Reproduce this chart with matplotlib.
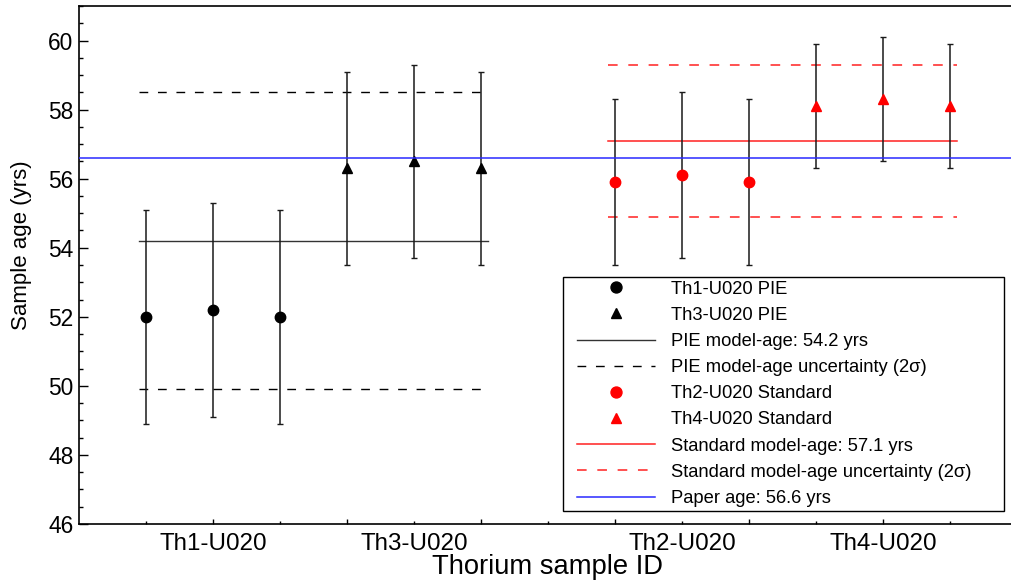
import matplotlib
matplotlib.use('Agg')
import matplotlib.pyplot as plt
from matplotlib.lines import Line2D
from matplotlib.legend_handler import HandlerLine2D
from matplotlib.transforms import blended_transform_factory

plt.rcParams['font.family'] = ['Liberation Sans', 'DejaVu Sans']

# ---- data ----
group_labels = ['Th1-U020', 'Th3-U020', 'Th2-U020', 'Th4-U020']
th1_age = [52.0, 52.2, 52.0]
th1_err = [3.1, 3.1, 3.1]
th3_age = [56.3, 56.5, 56.3]
th3_err = [2.8, 2.8, 2.8]
th2_age = [55.9, 56.1, 55.9]
th2_err = [2.4, 2.4, 2.4]
th4_age = [58.1, 58.3, 58.1]
th4_err = [1.8, 1.8, 1.8]
pie_model_age = 54.2
pie_unc_low, pie_unc_high = 49.9, 58.5
std_model_age = 57.1
std_unc_low, std_unc_high = 54.9, 59.3
paper_age = 56.6

# ---- positions (three replicates per sample, gap between PIE and Standard) ----
x_th1 = [1, 2, 3]
x_th3 = [4, 5, 6]
x_th2 = [8, 9, 10]
x_th4 = [11, 12, 13]
label_pos = [2, 5, 9, 12]

W, H = 1012, 586
fig = plt.figure(figsize=(W / 100, H / 100), dpi=100)
ax = fig.add_axes([79 / W, (H - 524) / H, 938 / W, (524 - 6) / H])

ebar_kw = dict(ls='none', ecolor='#1a1a1a', elinewidth=1.1, capsize=2.2,
               capthick=1.0, ms=7.5, zorder=3)
ax.errorbar(x_th1, th1_age, yerr=th1_err, marker='o', color='black', **ebar_kw)
ax.errorbar(x_th3, th3_age, yerr=th3_err, marker='^', color='black', **ebar_kw)
ax.errorbar(x_th2, th2_age, yerr=th2_err, marker='o', color='red', mec='red', **ebar_kw)
ax.errorbar(x_th4, th4_age, yerr=th4_err, marker='^', color='red', mec='red', **ebar_kw)

pie_x = [x_th1[0] - 0.1, x_th3[-1] + 0.1]
std_x = [x_th2[0] - 0.1, x_th4[-1] + 0.1]
dash = (6.3, 7.0)
red = '#ff2020'
ax.plot(pie_x, [pie_model_age] * 2, color='#333333', lw=1.0, zorder=2)
ax.plot(pie_x, [pie_unc_high] * 2, color='black', lw=1.0, dashes=dash, zorder=2)
ax.plot(pie_x, [pie_unc_low] * 2, color='black', lw=1.0, dashes=dash, zorder=2)
ax.plot(std_x, [std_model_age] * 2, color=red, lw=1.1, zorder=2)
ax.plot(std_x, [std_unc_high] * 2, color=red, lw=1.1, dashes=dash, zorder=2)
ax.plot(std_x, [std_unc_low] * 2, color=red, lw=1.1, dashes=dash, zorder=2)
ax.axhline(paper_age, color='#2a2aff', lw=1.1, zorder=4)

ax.set_xlim(0, 14)
ax.set_ylim(46, 61)
ax.set_yticks([46, 48, 50, 52, 54, 56, 58, 60])
ax.set_yticks([46 + 0.5 * i for i in range(31)], minor=True)
ax.set_xticks([2, 4, 6, 8, 10, 12])
ax.set_xticks([1, 3, 5, 7, 9, 11, 13], minor=True)
ax.set_xticklabels([])
ax.tick_params(axis='y', which='major', direction='in', length=6.5, width=1.0,
               labelsize=16.4, pad=4)
ax.tick_params(axis='y', which='minor', direction='in', length=3, width=1.0)
ax.tick_params(axis='x', which='major', direction='in', length=3.6, width=1.0)
ax.tick_params(axis='x', which='minor', direction='in', length=2.0, width=1.0)
ax.tick_params(top=False, right=False, which='both')
for s in ax.spines.values():
    s.set_linewidth(1.2)

trans = blended_transform_factory(ax.transData, ax.transAxes)
for xp, lab in zip(label_pos, group_labels):
    ax.text(xp, -26 / 518, lab, transform=trans, ha='center', va='baseline',
            fontsize=17.4)
ax.text(0.5, -50 / 518, 'Thorium sample ID', transform=ax.transAxes,
        ha='center', va='baseline', fontsize=19.7)
fig.text(22 / W, 1 - 245 / H, 'Sample age (yrs)', rotation=90,
         ha='center', va='center', fontsize=16)

handles = [
    Line2D([], [], ls='none', marker='o', color='black', ms=7.9),
    Line2D([], [], ls='none', marker='^', color='black', ms=7.7),
    Line2D([], [], color='#333333', lw=1.0),
    Line2D([], [], color='black', lw=1.0, dashes=dash),
    Line2D([], [], ls='none', marker='o', color='red', ms=7.9),
    Line2D([], [], ls='none', marker='^', color='red', ms=7.7),
    Line2D([], [], color=red, lw=1.1),
    Line2D([], [], color=red, lw=1.1, dashes=dash),
    Line2D([], [], color='#2a2aff', lw=1.1),
]
labels = [
    'Th1-U020 PIE',
    'Th3-U020 PIE',
    'PIE model-age: 54.2 yrs',
    'PIE model-age uncertainty (2σ)',
    'Th2-U020 Standard',
    'Th4-U020 Standard',
    'Standard model-age: 57.1 yrs',
    'Standard model-age uncertainty (2σ)',
    'Paper age: 56.6 yrs',
]
leg = ax.legend(handles, labels, loc='upper left',
                bbox_to_anchor=(563 / W, 1 - 511 / H, (1004 - 563) / W, (511 - 277) / H),
                bbox_transform=fig.transFigure, mode='expand', borderaxespad=0,
                fontsize=13.2, handlelength=4.8, handletextpad=0.87,
                labelspacing=0.5, borderpad=0.2, fancybox=False,
                framealpha=1, edgecolor='black', numpoints=1,
                handler_map={Line2D: HandlerLine2D(xpad=0.55)})
leg.get_frame().set_linewidth(1.0)
leg.set_zorder(10)

fig.savefig('out.png', dpi=100)
